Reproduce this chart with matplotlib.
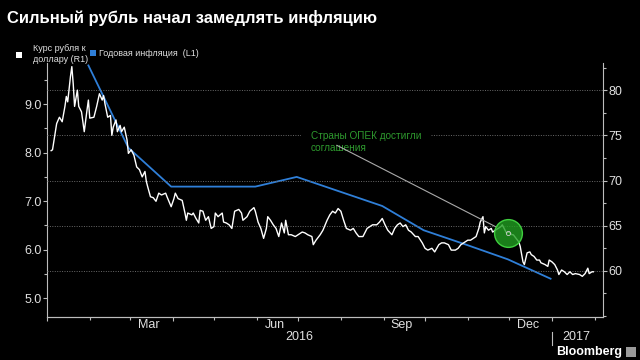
import matplotlib
matplotlib.use("Agg")
import matplotlib.pyplot as plt
import matplotlib.dates as mdates
from matplotlib.patches import Rectangle
from matplotlib.lines import Line2D
import matplotlib.transforms as mtransforms
import pandas as pd

# ---------------- data ----------------
title = "Сильный рубль начал замедлять инфляцию"
rate_label = "Курс рубля к\nдоллару (R1)"
infl_label = "Годовая инфляция  (L1)"
annot_text = "Страны ОПЕК достигли\nсоглашения"

base_date = "2016-01-01"
# day offset from 2016-01-01 and RUB per USD (right axis)
rate_day = [3, 4, 7, 9, 11, 13, 14, 15, 17, 18, 19, 20, 22, 23, 25, 27, 29, 30, 31, 34,
            36, 38, 40, 41, 42, 44, 46, 47, 48, 50, 51, 53, 54, 56, 58, 59, 61, 63, 65, 67,
            69, 71, 72, 73, 75, 77, 79, 81, 83, 86, 87, 90, 92, 93, 95, 98, 100, 101, 102, 105,
            106, 108, 110, 111, 113, 115, 117, 119, 121, 122, 124, 127, 128, 130, 132, 134, 136, 139, 141, 142,
            145, 147, 150, 151, 153, 155, 157, 159, 160, 162, 164, 166, 168, 170, 172, 173, 175, 177, 180, 182,
            185, 187, 189, 192, 193, 195, 198, 200, 203, 205, 207, 209, 211, 213, 215, 217, 220, 222, 224, 226,
            229, 232, 234, 236, 239, 241, 243, 245, 247, 250, 252, 254, 256, 258, 260, 262, 264, 267, 269, 272,
            274, 276, 279, 281, 284, 286, 288, 291, 293, 296, 298, 300, 303, 305, 307, 309, 311, 313, 314, 316,
            317, 318, 320, 322, 323, 325, 327, 329, 330, 332, 333, 335, 337, 338, 340, 342, 343, 345, 346, 348,
            350, 351, 353, 355, 357, 358, 361, 363, 364, 366, 368, 370, 371, 373, 375, 377, 379, 381, 383, 386,
            388, 390, 392, 393, 395, 396]
rate_rub = [73.3, 73.4, 76.3, 77.0, 76.5, 78.2, 79.3, 78.7, 81.5, 82.6, 80.7, 78.2, 80.0, 78.2, 77.6, 75.4, 77.8, 78.9, 76.9, 77.0,
            78.2, 79.6, 78.9, 79.4, 78.5, 77.0, 77.2, 75.0, 75.9, 76.7, 75.4, 76.1, 75.4, 75.9, 74.5, 73.0, 73.4, 72.8, 71.5, 71.2,
            70.4, 71.0, 69.9, 69.3, 68.2, 68.1, 67.7, 68.6, 68.4, 68.6, 68.2, 67.1, 68.0, 68.6, 68.0, 67.8, 66.4, 65.6, 66.4, 66.2,
            66.4, 65.8, 65.3, 66.7, 66.6, 65.6, 66.0, 64.7, 64.9, 66.4, 66.0, 66.4, 65.4, 65.3, 65.1, 64.7, 66.6, 66.8, 66.4, 65.6,
            66.0, 66.6, 67.0, 66.6, 65.4, 64.7, 63.6, 64.7, 66.0, 65.6, 65.1, 64.7, 63.8, 65.3, 64.2, 65.6, 64.0, 64.0, 63.8, 64.0,
            64.3, 64.2, 64.0, 63.8, 62.9, 63.4, 64.0, 64.5, 65.6, 66.2, 66.6, 66.4, 66.9, 66.6, 65.6, 64.7, 64.5, 64.7, 64.2, 63.8,
            63.8, 64.7, 64.9, 65.1, 65.1, 65.4, 65.8, 65.1, 64.5, 64.0, 64.7, 65.1, 65.3, 64.9, 65.1, 64.5, 64.3, 63.8, 63.8, 63.1,
            62.5, 62.3, 62.5, 62.1, 62.9, 63.1, 63.1, 62.9, 62.3, 62.3, 62.5, 62.9, 63.2, 63.4, 63.4, 63.6, 63.8, 64.7, 65.4, 66.0,
            64.2, 64.9, 64.5, 64.7, 64.3, 64.5, 64.7, 64.9, 65.1, 64.5, 64.2, 64.3, 64.0, 64.0, 63.6, 63.2, 62.7, 61.0, 60.7, 62.0,
            62.1, 61.8, 61.6, 61.2, 61.2, 60.9, 60.7, 60.5, 61.2, 61.0, 60.7, 60.1, 59.6, 60.1, 59.9, 59.6, 59.9, 59.6, 59.7, 59.6,
            59.4, 59.7, 60.3, 59.7, 59.9, 59.9]

# annual inflation, % (left axis), month-end
infl_month = ["2016-01-31", "2016-02-29", "2016-03-31", "2016-04-30", "2016-05-31", "2016-06-30",
              "2016-07-31", "2016-08-31", "2016-09-30", "2016-10-31", "2016-11-30", "2016-12-31"]
infl_pct = [9.8, 8.1, 7.3, 7.3, 7.3, 7.5, 7.2, 6.9, 6.4, 6.1, 5.8, 5.4]

opec_date = "2016-11-30"
opec_rate = 64.2
annot_from_date = "2016-07-29"
annot_from_rate = 73.9

month_labels = ["Mar", "Jun", "Sep", "Dec"]
month_label_dates = ["2016-03-15", "2016-06-14", "2016-09-14", "2016-12-15"]
year_labels = ["2016", "2017"]
year_label_dates = ["2016-07-02", "2017-01-19"]
year_split = "2017-01-01"

x_start, x_end = "2016-01-01", "2017-02-07"
left_ticks = [5.0, 6.0, 7.0, 8.0, 9.0]
right_ticks = [60, 65, 70, 75, 80]

# ---------------- style ----------------
plt.rcParams['font.family'] = ['Liberation Sans', 'DejaVu Sans']

BG = 'black'
AX_COL = '#bdbdbd'
TXT_COL = '#e0e0e0'
GRID_COL = '#6a6a6a'
BLUE = '#2f7fd8'

fig = plt.figure(figsize=(6.4, 3.6), dpi=100, facecolor=BG)
W, H = 640, 360
ax = fig.add_axes([47 / W, 1 - 317 / H, (603 - 47) / W, (317 - 63) / H])
ax.set_facecolor(BG)
ax2 = ax.twinx()

rate_dates = pd.Timestamp(base_date) + pd.to_timedelta(rate_day, unit='D')
infl_dates = pd.to_datetime(infl_month)

ax.plot(infl_dates, infl_pct, color=BLUE, lw=1.3, zorder=3)
ax2.plot(rate_dates, rate_rub, color='white', lw=1.0, zorder=3)

ax.set_xlim(pd.Timestamp(x_start), pd.Timestamp(x_end))
ax.set_ylim(4.61, 9.85)
ax2.set_ylim(54.9, 83.0)

# ticks
ax.set_yticks(left_ticks)
ax.set_yticklabels([f"{v:.1f}" for v in left_ticks])
ax.yaxis.set_minor_locator(matplotlib.ticker.MultipleLocator(0.5))
ax2.set_yticks(right_ticks)
ax2.set_yticklabels([str(v) for v in right_ticks])
ax2.yaxis.set_minor_locator(matplotlib.ticker.MultipleLocator(2.5))

ax.xaxis.set_major_locator(mdates.MonthLocator(bymonth=[1, 4, 7, 10]))
ax.xaxis.set_minor_locator(mdates.MonthLocator())
ax.xaxis.set_major_formatter(matplotlib.ticker.NullFormatter())
ax2.xaxis.set_major_locator(mdates.MonthLocator(bymonth=[1, 4, 7, 10]))

for a in (ax, ax2):
    for s in a.spines.values():
        s.set_color(AX_COL)
        s.set_linewidth(0.8)
    a.spines['top'].set_visible(False)
    a.tick_params(which='both', colors=AX_COL, labelcolor=TXT_COL, labelsize=9, length=3, width=0.8)
    a.tick_params(which='minor', length=2.5)
ax.spines['right'].set_visible(False)
ax2.spines['left'].set_visible(False)
ax.tick_params(axis='y', pad=1)
ax2.tick_params(axis='y', pad=1)

# grid (on top axes so annotation box can mask it)
ax2.grid(True, axis='y', which='major', color=GRID_COL, ls=(0, (1, 1.5)), lw=0.7, zorder=0)
ax2.grid(True, axis='x', which='major', color=GRID_COL, ls=(0, (1, 1.5)), lw=0.7, zorder=0)

# x labels
trans = mtransforms.blended_transform_factory(ax.transData, ax.transAxes)
for lab, d in zip(month_labels, month_label_dates):
    ax.text(pd.Timestamp(d), -0.031, lab, transform=trans, ha='center', va='center',
            color=TXT_COL, fontsize=9)
for lab, d in zip(year_labels, year_label_dates):
    ax.text(pd.Timestamp(d), -0.079, lab, transform=trans, ha='center', va='center',
            color=TXT_COL, fontsize=9)
ax.add_line(Line2D([pd.Timestamp(year_split)] * 2, [-0.059, -0.110], transform=trans,
                   color=AX_COL, lw=0.8, clip_on=False))

# annotation
ax2.text(pd.Timestamp(annot_from_date) - pd.Timedelta(days=19), 74.3, annot_text,
         color='#2e9a2e', fontsize=7.2, ha='left', va='center', linespacing=1.25, zorder=6,
         bbox=dict(boxstyle='square,pad=1.0', fc=BG, ec='none'))
ax2.plot(pd.Timestamp(opec_date), opec_rate, 'o', ms=20, mfc=(0.13, 0.62, 0.13, 0.8),
         mec='#3fcf3f', mew=1.0, zorder=7)
ax2.plot(pd.Timestamp(opec_date), opec_rate, 'o', ms=3, mfc='none', mec='#cccccc', mew=0.6, zorder=8)
ax2.annotate('', xy=(pd.Timestamp(opec_date), opec_rate),
             xytext=(pd.Timestamp(annot_from_date), annot_from_rate),
             arrowprops=dict(arrowstyle='-', color='#aaaaaa', lw=0.8, shrinkA=0, shrinkB=10),
             zorder=7)

# title
fig.text(7 / W, 1 - 18 / H, title, color='white', fontsize=12, weight='bold', ha='left', va='center')

# legend
leg_fs = 6.5
fig.patches.append(Rectangle((16 / W, 1 - 58 / H), 6 / W, 6 / H, transform=fig.transFigure,
                             fc='white', ec='none'))
fig.text(33 / W, 1 - 54 / H, rate_label, color=TXT_COL, fontsize=leg_fs, ha='left', va='center',
         linespacing=1.15)
fig.patches.append(Rectangle((90 / W, 1 - 56 / H), 6 / W, 6 / H, transform=fig.transFigure,
                             fc=BLUE, ec='none'))
fig.text(99 / W, 1 - 53 / H, infl_label, color=TXT_COL, fontsize=leg_fs, ha='left', va='center')

# source
fig.text(622 / W, 1 - 352 / H, "Bloomberg", color='white', fontsize=9, weight='bold',
         ha='right', va='center')
fig.patches.append(Rectangle((626 / W, 1 - 357 / H), 10 / W, 10 / H, transform=fig.transFigure,
                             fc='#9a9a9a', ec='none'))

fig.savefig('out.png', dpi=100, facecolor=BG)
